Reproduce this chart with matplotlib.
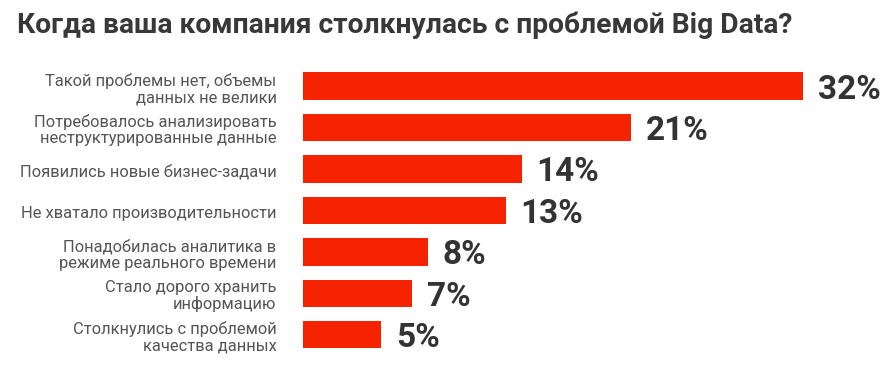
import matplotlib
matplotlib.use("Agg")
import matplotlib.pyplot as plt

title = "Когда ваша компания столкнулась с проблемой Big Data?"
categories = [
    "Такой проблемы нет, объемы\nданных не велики",
    "Потребовалось анализировать\nнеструктурированные данные",
    "Появились новые бизнес-задачи",
    "Не хватало производительности",
    "Понадобилась аналитика в\nрежиме реального времени",
    "Стало дорого хранить\nинформацию",
    "Столкнулись с проблемой\nкачества данных",
]
values = [32, 21, 14, 13, 8, 7, 5]

W, H = 884, 370
fig = plt.figure(figsize=(W / 100, H / 100), dpi=100)
fig.patch.set_facecolor("white")

ax_left, ax_right = 303 / W, 803 / W
top_px, bot_px = 65.3, 355.5
ax = fig.add_axes([ax_left, 1 - bot_px / H, ax_right - ax_left, (bot_px - top_px) / H])

pos = list(range(len(values)))
ax.barh(pos, values, height=0.66, color="#f52300", edgecolor="none")
ax.set_xlim(0, max(values))
ax.set_ylim(len(values) - 0.5, -0.5)
ax.axis("off")

for p, v, c in zip(pos, values, categories):
    ax.annotate(f"{v}%", xy=(v, p), xytext=(10.5, -2.5), textcoords="offset points",
                va="center", ha="left", fontsize=24, fontweight="bold",
                color="#333333", family="Roboto")
    ax.annotate(c, xy=(0, p), xytext=(-19, -2), textcoords="offset points",
                va="center", ha="right", fontsize=11.9, color="#555555",
                family="Roboto", linespacing=1.12, multialignment="right")

fig.text(17 / W, 1 - 33 / H, title, fontsize=20.3, fontweight="bold",
         color="#383838", family="Roboto", ha="left", va="baseline")

fig.savefig("out.png", dpi=100, facecolor="white")
